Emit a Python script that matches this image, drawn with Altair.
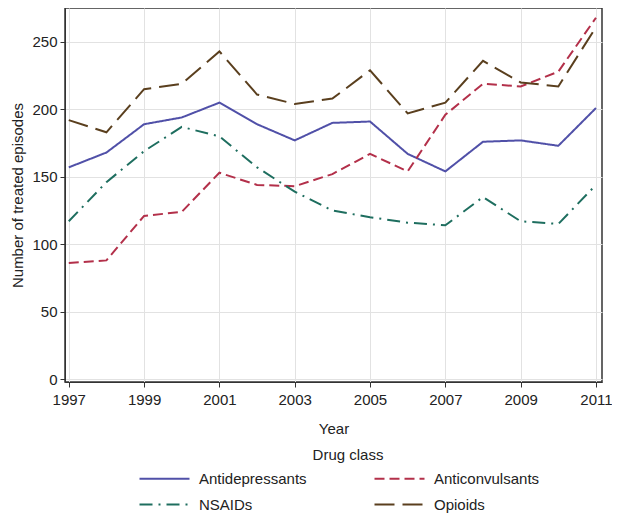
import altair as alt
import pandas as pd

years = list(range(1997, 2012))
antidepressants = [157, 168, 189, 194, 205, 189, 177, 190, 191, 167, 154, 176, 177, 173, 201]
anticonvulsants = [86, 88, 121, 124, 153, 144, 143, 152, 167, 154, 196, 219, 217, 228, 268]
nsaids = [117, 146, 169, 187, 180, 157, 139, 125, 120, 116, 114, 135, 117, 115, 144]
opioids = [192, 183, 215, 219, 243, 211, 204, 208, 229, 197, 205, 236, 220, 217, 261]

classes = ["Antidepressants", "Anticonvulsants", "NSAIDs", "Opioids"]
series = [antidepressants, anticonvulsants, nsaids, opioids]
colors = ["#5050A8", "#B3304A", "#1E6E5F", "#5A3F1E"]
dashes = [[1, 0], [10, 5], [13, 6, 2, 6], [20, 8]]

rows = []
for c, vals in zip(classes, series):
    for y, v in zip(years, vals):
        rows.append({"Year": y, "Episodes": v, "Drug class": c})
df = pd.DataFrame(rows)

FONT = "Liberation Sans"

chart = alt.Chart(df).mark_line(strokeWidth=2).encode(
    x=alt.X("Year:Q",
            scale=alt.Scale(domain=[1996.9, 2011.16], nice=False, zero=False),
            axis=alt.Axis(values=list(range(1997, 2012, 2)), format="d", title="Year",
                          titlePadding=14, labelPadding=5)),
    y=alt.Y("Episodes:Q",
            scale=alt.Scale(domain=[-2.2, 275.2], nice=False, zero=False),
            axis=alt.Axis(values=[0, 50, 100, 150, 200, 250], title="Number of treated episodes",
                          titlePadding=6)),
    color=alt.Color("Drug class:N",
                    scale=alt.Scale(domain=classes, range=colors),
                    legend=alt.Legend(orient="none", legendX=92, legendY=440, columns=2,
                                      direction="horizontal",
                                      columnPadding=63, rowPadding=10,
                                      symbolType="M-5,0L5,0",
                                      symbolSize=100, symbolStrokeWidth=2, labelOffset=27,
                                      titleAnchor="middle", titleFontSize=15, labelFontSize=15,
                                      titleFontWeight="normal", titlePadding=8,
                                      labelFont=FONT, titleFont=FONT,
                                      labelColor="#222", titleColor="#222")),
    strokeDash=alt.StrokeDash("Drug class:N",
                              scale=alt.Scale(domain=classes, range=dashes)),
).properties(
    width=537, height=374,
    autosize=alt.AutoSizeParams(type="none"),
    padding={"left": 57, "top": 0, "right": 10, "bottom": 131},
).configure_view(
    stroke="#333", strokeWidth=1.5
).configure_axis(
    labelFont=FONT, titleFont=FONT, labelFontSize=15, titleFontSize=15,
    titleFontWeight="normal", labelColor="#222", titleColor="#222",
    gridColor="#e2e2e2", gridWidth=1, domainColor="#333", tickColor="#333",
    tickSize=5, labelPadding=3
)

chart.save("out.html", embed_options={"renderer": "svg", "actions": False})
